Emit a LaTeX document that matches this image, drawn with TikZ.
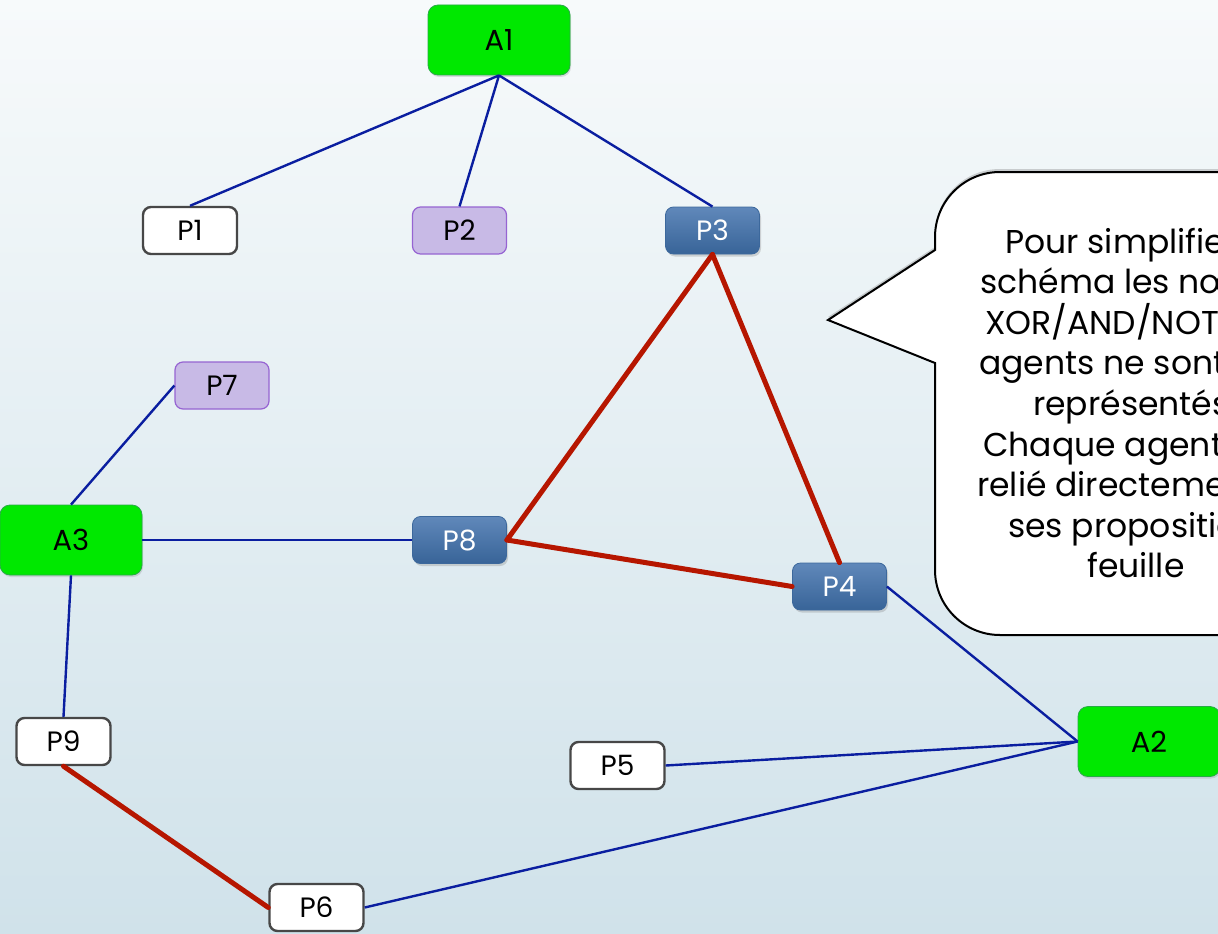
\documentclass[tikz,border=0pt]{standalone}
\usepackage{fontspec}
\setmainfont{Poppins}
\usetikzlibrary{shadows}

\definecolor{bgtop}{RGB}{247,250,251}
\definecolor{bgbot}{RGB}{208,226,234}
\definecolor{agentgreen}{RGB}{0,232,0}
\definecolor{agentedge}{RGB}{40,170,70}
\definecolor{lavfill}{RGB}{200,186,230}
\definecolor{lavedge}{RGB}{150,100,210}
\definecolor{bluetop}{RGB}{96,136,186}
\definecolor{bluebot}{RGB}{56,100,152}
\definecolor{blueedge}{RGB}{60,104,156}
\definecolor{linkblue}{RGB}{10,30,160}
\definecolor{linkred}{RGB}{182,22,0}

\tikzset{
  agent/.style={draw=agentedge, line width=0.8pt, fill=agentgreen, rounded corners=10pt,
    minimum width=142pt, minimum height=70pt, inner sep=0pt,
    font=\fontsize{29}{33}\selectfont,
    drop shadow={opacity=0.25, shadow xshift=1pt, shadow yshift=-2pt}},
  propbox/.style={rounded corners=8pt, minimum width=94pt, minimum height=47pt,
    inner sep=0pt, font=\fontsize{28}{32}\selectfont},
  plainprop/.style={propbox, draw=black!72, line width=2.4pt, fill=white},
  lavprop/.style={propbox, draw=lavedge, line width=1.2pt, fill=lavfill},
  blueprop/.style={propbox, draw=blueedge, line width=0.8pt, top color=bluetop,
    bottom color=bluebot, text=white,
    drop shadow={opacity=0.3, shadow xshift=1.5pt, shadow yshift=-2.5pt}},
  bluelink/.style={draw=linkblue, line width=2.4pt},
  redlink/.style={draw=linkred, line width=5pt, line cap=round},
  notetext/.style={anchor=base west, inner sep=0pt, font=\fontsize{33}{40}\selectfont}
}

\begin{document}
\begin{tikzpicture}[x=1pt, y=-1pt]
  \useasboundingbox (0,0) rectangle (1218,934);
  \clip (0,0) rectangle (1218,934);
  \shade[top color=bgtop, bottom color=bgbot] (0,0) rectangle (1218,934);

  % agents
  \node[agent] (A1) at (499,40) {A1};
  \node[agent] (A3) at (71,540) {A3};
  \node[agent] (A2) at (1149,741.5) {A2};

  % propositions
  \node[plainprop] (P1) at (190,230.5) {P1};
  \node[lavprop]   (P2) at (459.5,230.5) {P2};
  \node[blueprop]  (P3) at (712.5,230.5) {P3};
  \node[lavprop]   (P7) at (222,385.5) {P7};
  \node[blueprop]  (P8) at (459.5,540) {P8};
  \node[blueprop]  (P4) at (839.5,586.5) {P4};
  \node[plainprop] (P9) at (63.5,741.5) {P9};
  \node[plainprop] (P5) at (617.5,765.5) {P5};
  \node[plainprop] (P6) at (316.5,907.5) {P6};

  % agent links
  \path[bluelink] (A1.south) -- (P1.north);
  \path[bluelink] (A1.south) -- (P2.north);
  \path[bluelink] (A1.south) -- (P3.north);
  \path[bluelink] (A3.north) -- (P7.west);
  \path[bluelink] (A3.east) -- (P8.west);
  \path[bluelink] (A3.south) -- (P9.north);
  \path[bluelink] (P4.east) -- (A2.west);
  \path[bluelink] (P5.east) -- (A2.west);
  \path[bluelink] (P6.east) -- (A2.west);

  % constraint links
  \path[redlink] (P3.south) -- (P8.east);
  \path[redlink] (P3.south) -- (P4.north);
  \path[redlink] (P8.east) -- (P4.west);
  \path[redlink] (P9.south) -- (P6.west);

  % speech bubble (y axis points down, so angles run clockwise on screen)
  \path[draw=black, line width=2pt, fill=white,
        drop shadow={opacity=0.35, shadow xshift=0pt, shadow yshift=3pt}]
    (935,250) -- (935,237) arc[start angle=180, end angle=270, radius=65]
    -- (1240,172) -- (1240,635) -- (1000,635)
    arc[start angle=90, end angle=180, radius=65]
    -- (935,363) -- (828,320) -- cycle;

  \node[notetext] (n1) at (1005,253) {Pour simplifier le};
  \node[notetext] (n2) at (980,293.6) {schéma les nœuds};
  \node[notetext] (n3) at (985,334.2) {XOR/AND/NOT des};
  \node[notetext] (n4) at (979,374.8) {agents ne sont pas};
  \node[notetext] (n5) at (1033,415.4) {représentés.};
  \node[notetext] (n6) at (983,456) {Chaque agent est};
  \node[notetext] (n7) at (977,496.6) {relié directement à};
  \node[notetext] (n8) at (1008,537.2) {ses propositions};
  \node[notetext] (n9) at (1087,577.8) {feuille};
\end{tikzpicture}
\end{document}
